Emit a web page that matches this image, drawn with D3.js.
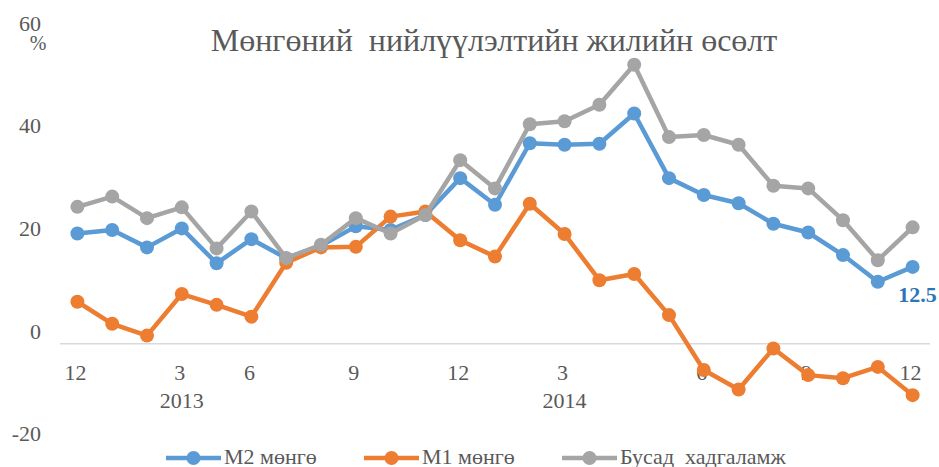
<!DOCTYPE html>
<html>
<head>
<meta charset="utf-8">
<script src="https://cdn.jsdelivr.net/npm/d3@7"></script>
<style>
  body { margin: 0; background: #fff; }
  text { font-family: "Liberation Serif", "Times New Roman", serif; fill: #595959; }
</style>
</head>
<body>
<div id="viz"></div>
<script>
// money supply annual growth, Dec 2012 - Dec 2014

const monthLabels = ["12", "", "", "3", "", "6", "", "", "9", "", "", "12", "", "",
                     "3", "", "", "", "6", "", "", "9", "", "", "12"];
const yearLabels = ["2013", "2014"];
const yearIndex = [3, 14];

const m2 = [19.0, 19.7, 16.3, 20.0, 13.2, 17.9, 14.2, 16.6, 20.4, 19.7, 22.6, 29.8, 24.6,
            36.6, 36.3, 36.5, 42.4, 29.8, 26.5, 24.9, 20.9, 19.2, 14.8, 9.6, 12.5];
const m1 = [5.7, 1.4, -0.9, 7.2, 5.1, 2.8, 13.3, 16.3, 16.4, 22.3, 23.3, 17.7, 14.5,
            24.8, 18.9, 9.9, 11.1, 3.1, -7.6, -11.4, -3.4, -8.6, -9.2, -7.0, -12.5];
const savings = [24.2, 26.2, 22.0, 24.1, 16.1, 23.3, 14.2, 16.8, 22.0, 19.0, 22.6, 33.3, 27.8,
                 40.3, 40.9, 44.1, 51.9, 37.8, 38.2, 36.3, 28.3, 27.8, 21.6, 13.8, 20.2];

const seriesNames = ["М2 мөнгө", "М1 мөнгө", "Бусад  хадгаламж"];
const seriesColors = ["#5b9bd5", "#ed7d31", "#a5a5a5"];
const yTicks = [-20, 0, 20, 40, 60];

const dimensions = {
    width: 939,
    height: 467,
    margins: { left: 60, right: 9, top: 23, bottom: 33 }
};

const svg = d3.select('#viz').append('svg')
    .attr('width', dimensions.width)
    .attr('height', dimensions.height);

const xScale = d3.scalePoint()
    .domain(d3.range(monthLabels.length))
    .range([dimensions.margins.left, dimensions.width - dimensions.margins.right])
    .padding(0.5);

const yScale = d3.scaleLinear()
    .domain([-20, 60])
    .range([433.6, 23.2]);

// title
svg.append('text')
    .attr('x', 494)
    .attr('y', 51)
    .attr('text-anchor', 'middle')
    .style('font-size', '32px')
    .style('white-space', 'pre')
    .text('Мөнгөний  нийлүүлэлтийн жилийн өсөлт');

// y labels (plain hyphen for negatives, like the original)
const yAxis = svg.append('g')
    .attr('transform', 'translate(41,0)')
    .call(d3.axisLeft(yScale).tickValues(yTicks).tickSize(0).tickPadding(0)
        .tickFormat(d => String(d)));
yAxis.select('.domain').remove();
yAxis.selectAll('text')
    .attr('fill', '#595959')
    .style('font-family', '"Liberation Serif", serif')
    .style('font-size', '22px');

svg.append('text')
    .attr('x', 38)
    .attr('y', 50)
    .attr('text-anchor', 'middle')
    .style('font-size', '20px')
    .text('%');

// category axis line (sits a little below zero, as in the original)
svg.append('line')
    .attr('x1', dimensions.margins.left)
    .attr('x2', dimensions.width - dimensions.margins.right)
    .attr('y1', yScale(-2.5))
    .attr('y2', yScale(-2.5))
    .attr('stroke', '#d9d9d9')
    .attr('stroke-width', 1.5);

// month + year labels
svg.append('g').selectAll('text')
    .data(monthLabels)
    .join('text')
    .attr('x', (d, i) => xScale(i) - 2)
    .attr('y', 380)
    .attr('text-anchor', 'middle')
    .style('font-size', '22px')
    .text(d => d);

svg.append('g').selectAll('text')
    .data(yearLabels)
    .join('text')
    .attr('x', (d, i) => xScale(yearIndex[i]))
    .attr('y', 408)
    .attr('text-anchor', 'middle')
    .style('font-size', '22px')
    .text(d => d);

// lines
const allSeries = [m2, m1, savings];
const line = d3.line()
    .x((d, i) => xScale(i))
    .y(d => yScale(d));

allSeries.forEach(function(values, s) {
    const g = svg.append('g');
    g.append('path')
        .datum(values)
        .attr('d', line)
        .attr('fill', 'none')
        .attr('stroke', seriesColors[s])
        .attr('stroke-width', 4.5)
        .attr('stroke-linejoin', 'round');
    g.selectAll('circle')
        .data(values)
        .join('circle')
        .attr('cx', (d, i) => xScale(i))
        .attr('cy', d => yScale(d))
        .attr('r', 7)
        .attr('fill', seriesColors[s]);
});

// data label for last M2 value
const last = m2.length - 1;
svg.append('text')
    .attr('x', xScale(last) + 5)
    .attr('y', yScale(m2[last]) + 35)
    .attr('text-anchor', 'middle')
    .style('font-size', '22px')
    .style('font-weight', 'bold')
    .style('fill', '#2e75b6')
    .text(m2[last]);

// legend
const legendX = [166, 364, 562];
const legend = svg.append('g');
seriesNames.forEach(function(name, s) {
    const x = legendX[s];
    legend.append('line')
        .attr('x1', x).attr('x2', x + 55)
        .attr('y1', 458).attr('y2', 458)
        .attr('stroke', seriesColors[s])
        .attr('stroke-width', 4.5);
    legend.append('circle')
        .attr('cx', x + 27.5).attr('cy', 458).attr('r', 7)
        .attr('fill', seriesColors[s]);
    legend.append('text')
        .attr('x', x + 58)
        .attr('y', 464)
        .style('font-size', '22px')
        .style('white-space', 'pre')
        .text(name);
});
</script>
</body>
</html>
